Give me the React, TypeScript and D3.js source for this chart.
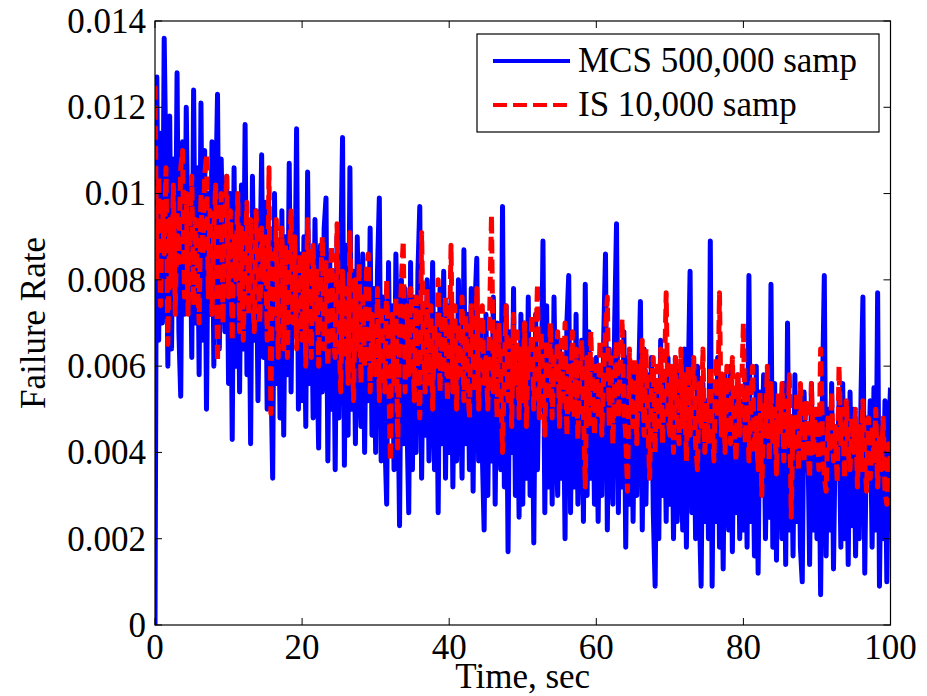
import React, { useRef, useEffect } from 'react';
import * as d3 from 'd3';

// failure rate, in units of 1e-4, one sample every 0.25 s starting at t = 0
// each row covers 5 s
const mcsRate = [
	0, 127, 66, 114, 70, 136, 104, 60, 118, 64, 108, 74, 128, 68, 53, 112, 72, 120, 86, 102,
	62, 124, 70, 106, 58, 121, 66, 110, 50, 100, 72, 112, 60, 98, 123, 64, 108, 84, 68, 104,
	56, 100, 43, 106, 60, 94, 54, 102, 64, 116, 58, 92, 42, 104, 66, 96, 52, 80, 109, 62,
	98, 50, 92, 60, 34, 100, 56, 88, 48, 96, 44, 90, 58, 107, 54, 94, 72, 115, 50, 86,
	52, 90, 46, 105, 56, 84, 48, 94, 66, 41, 88, 54, 92, 99, 38, 86, 50, 82, 36, 90,
	48, 84, 113, 37, 88, 44, 106, 50, 82, 42, 90, 62, 46, 86, 40, 80, 52, 92, 44, 78,
	40, 82, 99, 38, 76, 44, 28, 84, 46, 74, 36, 86, 60, 23, 80, 42, 78, 48, 26, 84,
	36, 76, 40, 82, 97, 34, 74, 44, 80, 38, 58, 84, 36, 72, 26, 78, 42, 82, 34, 74,
	40, 76, 32, 70, 38, 80, 56, 34, 87, 42, 72, 36, 78, 31, 74, 85, 38, 70, 40, 22,
	72, 30, 66, 38, 76, 28, 70, 52, 36, 97, 32, 74, 17, 68, 40, 78, 30, 64, 25, 72,
	28, 70, 34, 76, 30, 66, 19, 72, 36, 64, 50, 89, 26, 74, 32, 68, 28, 76, 46, 30,
	66, 34, 62, 20, 70, 81, 26, 64, 32, 72, 28, 48, 66, 24, 79, 30, 68, 34, 60, 28,
	62, 24, 58, 30, 66, 86, 22, 64, 44, 28, 70, 93, 26, 60, 32, 68, 18, 62, 28, 58,
	24, 60, 30, 56, 75, 22, 64, 28, 58, 40, 62, 26, 9, 56, 20, 66, 30, 58, 24, 62,
	28, 54, 20, 62, 24, 58, 40, 22, 64, 18, 56, 82, 26, 52, 20, 60, 28, 9, 56, 24,
	52, 20, 89, 9, 56, 24, 62, 18, 50, 13, 58, 36, 22, 60, 17, 54, 26, 58, 20, 52,
	22, 56, 18, 81, 24, 50, 16, 60, 12, 54, 38, 58, 20, 48, 25, 79, 18, 56, 15, 52,
	50, 20, 56, 14, 70, 22, 48, 16, 58, 24, 52, 18, 10, 54, 36, 46, 14, 56, 22, 50,
	20, 48, 7, 54, 81, 16, 50, 22, 56, 13, 46, 34, 52, 18, 56, 20, 48, 14, 54, 23,
	50, 16, 44, 20, 54, 76, 12, 48, 36, 52, 18, 55, 22, 77, 9, 46, 20, 52, 10, 44,
	55,
];

const isRate = [
	125, 80, 104, 74, 98, 86, 106, 65, 94, 78, 102, 72, 96, 84, 106, 110, 76, 100, 72, 92,
	104, 74, 94, 82, 70, 100, 86, 104, 109, 76, 96, 72, 92, 102, 61, 84, 100, 70, 94, 104,
	76, 96, 66, 90, 80, 100, 68, 92, 66, 86, 98, 72, 94, 78, 68, 96, 82, 70, 92, 80,
	90, 66, 106, 49, 86, 72, 94, 62, 80, 92, 64, 88, 62, 84, 96, 70, 90, 64, 78, 86,
	66, 86, 60, 94, 74, 62, 88, 70, 82, 60, 78, 90, 64, 84, 60, 74, 88, 66, 62, 93,
	70, 54, 82, 62, 78, 56, 91, 68, 52, 80, 64, 84, 56, 76, 60, 82, 86, 54, 72, 60,
	58, 78, 52, 74, 62, 54, 80, 60, 38, 72, 56, 76, 41, 66, 80, 89, 54, 74, 58, 78,
	70, 52, 76, 58, 48, 91, 64, 54, 78, 56, 74, 50, 70, 60, 80, 54, 72, 58, 76, 52,
	64, 88, 54, 74, 50, 70, 58, 76, 52, 72, 56, 48, 74, 62, 54, 78, 50, 68, 74, 56,
	62, 50, 72, 95, 54, 68, 48, 70, 58, 40, 60, 74, 52, 66, 46, 72, 56, 68, 48, 64,
	52, 70, 46, 64, 58, 72, 50, 62, 79, 48, 68, 56, 44, 66, 52, 70, 48, 62, 56, 68,
	46, 66, 52, 70, 44, 60, 50, 68, 48, 64, 43, 58, 66, 50, 32, 62, 46, 68, 54, 44,
	60, 48, 66, 44, 58, 68, 76, 46, 62, 42, 56, 66, 48, 60, 71, 50, 44, 31, 64, 52,
	46, 62, 42, 60, 50, 66, 44, 64, 48, 34, 56, 62, 40, 60, 46, 64, 42, 56, 77, 48,
	44, 60, 40, 62, 48, 42, 64, 46, 58, 38, 60, 44, 52, 62, 42, 36, 56, 46, 64, 40,
	52, 42, 60, 46, 38, 62, 48, 77, 44, 58, 40, 60, 50, 42, 62, 46, 38, 58, 44, 54,
	70, 42, 56, 38, 50, 60, 40, 48, 36, 54, 30, 52, 44, 60, 38, 56, 42, 50, 35, 54,
	44, 56, 38, 52, 42, 58, 25, 48, 40, 54, 36, 56, 44, 38, 52, 42, 34, 56, 40, 50,
	50, 36, 64, 44, 34, 31, 48, 40, 54, 38, 46, 33, 60, 42, 50, 34, 52, 40, 36, 48,
	40, 50, 32, 46, 36, 52, 38, 31, 48, 34, 46, 38, 50, 32, 44, 36, 48, 31, 28, 42,
	38,
];

const SAMPLE_STEP = 0.25;
const RATE_UNIT = 1e-4;

const xTicks = [0, 20, 40, 60, 80, 100];
const yTicks = [0, 0.002, 0.004, 0.006, 0.008, 0.01, 0.012, 0.014];
const yTickLabels = ['0', '0.002', '0.004', '0.006', '0.008', '0.01', '0.012', '0.014'];
const seriesNames = ['MCS 500,000 samp', 'IS 10,000 samp'];
const seriesColors = ['#0000ff', '#ff0000'];

const FONT = "'Liberation Serif', 'Times New Roman', serif";
const FONT_SIZE = '35px';

export default function App() {
	const svgWidth = 927;
	const svgHeight = 696;
	const chart = useRef<SVGSVGElement>(null);

	useEffect(() => {
		if (!chart.current) return;
		const margin = { top: 21, right: 36.5, bottom: 71, left: 155 };
		const width = svgWidth - margin.left - margin.right;
		const height = svgHeight - margin.top - margin.bottom;

		const root = d3.select(chart.current);
		root.selectAll('*').remove();

		const svg = root.append('g').attr('transform', `translate(${margin.left},${margin.top})`);

		const xScale = d3.scaleLinear().domain([0, 100]).range([0, width]);
		const yScale = d3.scaleLinear().domain([0, 0.014]).range([height, 0]);

		svg.append('clipPath').attr('id', 'plot-clip').append('rect').attr('width', width).attr('height', height);

		const line = d3
			.line<number>()
			.x((d, i) => xScale(i * SAMPLE_STEP))
			.y((d) => yScale(d * RATE_UNIT));

		const plot = svg.append('g').attr('clip-path', 'url(#plot-clip)');
		plot.append('path')
			.datum(mcsRate)
			.attr('d', line)
			.attr('fill', 'none')
			.attr('stroke', seriesColors[0])
			.attr('stroke-width', 5)
			.attr('stroke-linejoin', 'round');
		plot.append('path')
			.datum(isRate)
			.attr('d', line)
			.attr('fill', 'none')
			.attr('stroke', seriesColors[1])
			.attr('stroke-width', 5)
			.attr('stroke-linejoin', 'round')
			.attr('stroke-dasharray', '14,6');

		/* box and inward ticks on all four sides, MATLAB style */
		const tickLen = 7;
		svg.append('rect')
			.attr('width', width)
			.attr('height', height)
			.attr('fill', 'none')
			.attr('stroke', '#000')
			.attr('stroke-width', 1.2);

		svg.selectAll('.xtick-b')
			.data(xTicks)
			.join('line')
			.attr('x1', (d) => xScale(d))
			.attr('x2', (d) => xScale(d))
			.attr('y1', height)
			.attr('y2', height - tickLen)
			.attr('stroke', '#000');
		svg.selectAll('.xtick-t')
			.data(xTicks)
			.join('line')
			.attr('x1', (d) => xScale(d))
			.attr('x2', (d) => xScale(d))
			.attr('y1', 0)
			.attr('y2', tickLen)
			.attr('stroke', '#000');
		svg.selectAll('.ytick-l')
			.data(yTicks)
			.join('line')
			.attr('x1', 0)
			.attr('x2', tickLen)
			.attr('y1', (d) => yScale(d))
			.attr('y2', (d) => yScale(d))
			.attr('stroke', '#000');
		svg.selectAll('.ytick-r')
			.data(yTicks)
			.join('line')
			.attr('x1', width)
			.attr('x2', width - tickLen)
			.attr('y1', (d) => yScale(d))
			.attr('y2', (d) => yScale(d))
			.attr('stroke', '#000');

		svg.selectAll('.xlabel')
			.data(xTicks)
			.join('text')
			.attr('x', (d) => xScale(d))
			.attr('y', height + 34)
			.attr('text-anchor', 'middle')
			.style('font-family', FONT)
			.style('font-size', FONT_SIZE)
			.text((d) => String(d));
		svg.selectAll('.ylabel')
			.data(yTicks)
			.join('text')
			.attr('x', -9)
			.attr('y', (d) => yScale(d))
			.attr('dy', '0.34em')
			.attr('text-anchor', 'end')
			.style('font-family', FONT)
			.style('font-size', FONT_SIZE)
			.text((d, i) => yTickLabels[i]);

		root.append('text')
			.attr('x', margin.left + width / 2)
			.attr('y', 688)
			.attr('text-anchor', 'middle')
			.style('font-family', FONT)
			.style('font-size', FONT_SIZE)
			.text('Time, sec');
		root.append('text')
			.attr('transform', `translate(45,${margin.top + height / 2}) rotate(-90)`)
			.attr('text-anchor', 'middle')
			.style('font-family', FONT)
			.style('font-size', FONT_SIZE)
			.text('Failure Rate');

		/* legend */
		const legend = root.append('g');
		legend.append('rect')
			.attr('x', 477)
			.attr('y', 34)
			.attr('width', 402)
			.attr('height', 98)
			.attr('fill', '#fff')
			.attr('stroke', '#000')
			.attr('stroke-width', 1.2);
		const rows = legend
			.selectAll('g')
			.data(seriesNames)
			.join('g')
			.attr('transform', (d, i) => `translate(0,${61 + i * 44})`);
		rows.append('line')
			.attr('x1', 493)
			.attr('x2', 570)
			.attr('stroke', (d, i) => seriesColors[i])
			.attr('stroke-width', 4)
			.attr('stroke-dasharray', (d, i) => (i === 1 ? '14,6' : null));
		rows.append('text')
			.attr('x', 578)
			.attr('y', 11)
			.style('font-family', FONT)
			.style('font-size', FONT_SIZE)
			.text((d) => d);
	}, []);

	return (
		<svg
			ref={chart}
			width={svgWidth}
			height={svgHeight}
			style={{ position: 'absolute', left: 0, top: 0, background: '#fff' }}
		/>
	);
}
